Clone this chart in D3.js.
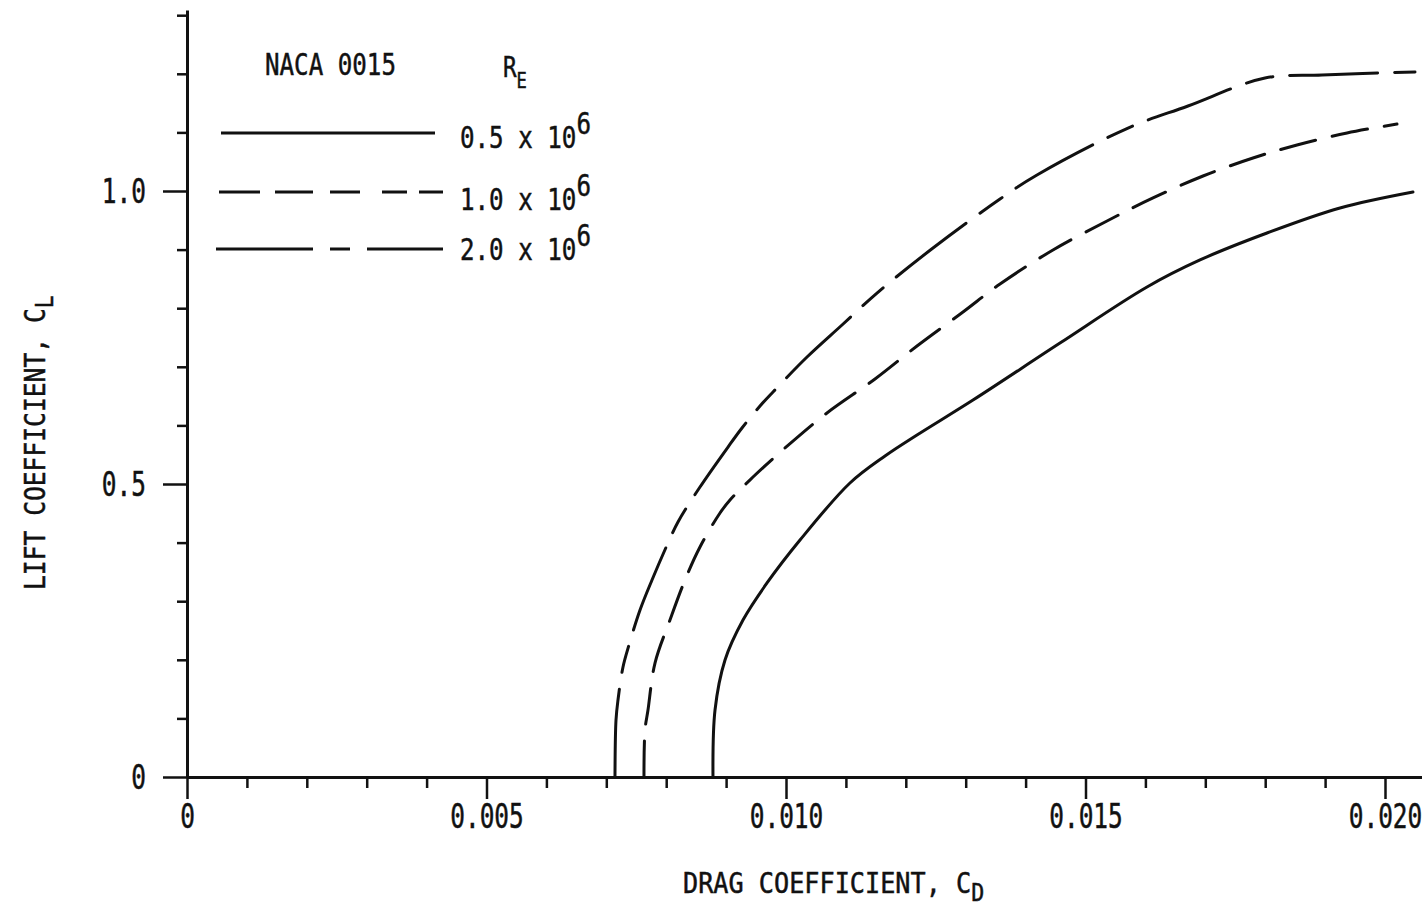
<!DOCTYPE html>
<html>
<head>
<meta charset="utf-8">
<script src="https://cdn.jsdelivr.net/npm/d3@7"></script>
<style>
  body { margin: 0; background: #fff; }
  svg { display: block; }
  text { font-family: "DejaVu Sans Mono", "Liberation Mono", monospace; fill: #111; stroke: #111; stroke-width: 0.5; }
</style>
</head>
<body>
<svg id="chart" width="1422" height="908"></svg>
<script>
// NACA 0015 drag polar
const re05Cd = [0.008781, 0.008815, 0.008982, 0.009282, 0.009683, 0.010234, 0.011068, 0.011653, 0.012187, 0.013122, 0.014574, 0.016027, 0.016912, 0.018030, 0.019249, 0.020467];
const re05Cl = [0, 0.1143, 0.1997, 0.2679, 0.3311, 0.4044, 0.5017, 0.5478, 0.5836, 0.6433, 0.7406, 0.8362, 0.8823, 0.9283, 0.9710, 0.9983];

const re10Cd = [0.007629, 0.007646, 0.007696, 0.007813, 0.008063, 0.008314, 0.008564, 0.008898, 0.009065, 0.009449, 0.009983, 0.010684, 0.011486, 0.012187, 0.012955, 0.013573, 0.014457, 0.015359, 0.016127, 0.016962, 0.017796, 0.018531, 0.019366, 0.020200];
const re10Cl = [0, 0.0802, 0.1143, 0.1945, 0.2679, 0.3362, 0.3925, 0.4505, 0.4727, 0.5119, 0.5614, 0.6212, 0.6792, 0.7355, 0.7935, 0.8413, 0.8993, 0.9488, 0.9881, 1.0256, 1.0563, 1.0785, 1.0990, 1.1143];

const re20Cd = [0.007145, 0.007162, 0.007195, 0.007279, 0.007379, 0.007563, 0.007763, 0.008030, 0.008197, 0.008564, 0.009032, 0.009265, 0.009566, 0.009783, 0.010351, 0.010935, 0.011519, 0.012454, 0.013573, 0.014190, 0.015710, 0.016711, 0.017997, 0.018948, 0.020501];
const re20Cl = [0, 0.0973, 0.1314, 0.1877, 0.2253, 0.2850, 0.3362, 0.3993, 0.4352, 0.4949, 0.5631, 0.5956, 0.6331, 0.6570, 0.7167, 0.7713, 0.8259, 0.9027, 0.9863, 1.0273, 1.1075, 1.1451, 1.1928, 1.1980, 1.2031];

const seriesLabels = ['0.5 x 10', '1.0 x 10', '2.0 x 10'];
const xMinorTicks = [0.001, 0.002, 0.003, 0.004, 0.006, 0.007, 0.008, 0.009, 0.011, 0.012, 0.013, 0.014, 0.016, 0.017, 0.018, 0.019];
const xMajorTicks = [0, 0.005, 0.010, 0.015, 0.020];
const xMajorLabels = ['0', '0.005', '0.010', '0.015', '0.020'];
const yMinorTicks = [0.1, 0.2, 0.3, 0.4, 0.6, 0.7, 0.8, 0.9, 1.1, 1.2, 1.3];
const yMajorTicks = [0, 0.5, 1.0];
const yMajorLabels = ['0', '0.5', '1.0'];

const svg = d3.select('#chart');
const x0 = 187, y0 = 777;

const xScale = d3.scaleLinear().domain([0, 0.020]).range([x0, 1385]);
const yScale = d3.scaleLinear().domain([0, 1.0]).range([y0, 191]);
const xMax = xScale.invert(1422);
const yMax = yScale.invert(10);
const xAxisScale = xScale.copy().domain([0, xMax]).range([x0, 1422]);
const yAxisScale = yScale.copy().domain([0, yMax]).range([y0, 10]);

// dash styles per series: solid, dashed, long-short
const dashes = [null, '36,17', '88,17,27,17'];
// the hand-drawn legend keys have uneven dashes
const legendDashes = [null, '41,15,38,17,30,22,25,12,24', '97,17,20,17,76'];

const series = [
  { cd: re05Cd, cl: re05Cl },
  { cd: re10Cd, cl: re10Cl },
  { cd: re20Cd, cl: re20Cl },
];

// axes
const xAxisG = svg.append('g').attr('transform', `translate(0,${y0})`);
xAxisG.append('g')
  .call(d3.axisBottom(xAxisScale).tickValues(xMinorTicks).tickSize(11).tickFormat(''))
  .call(g => g.select('.domain').remove());
xAxisG.append('g')
  .call(d3.axisBottom(xAxisScale)
    .tickValues(xMajorTicks).tickSize(22).tickSizeOuter(0).tickPadding(3)
    .tickFormat((d, i) => xMajorLabels[i]))
  .call(g => g.select('.domain').attr('stroke-width', 3))
  .call(g => g.selectAll('text')
    .attr('font-size', 34)
    .attr('dy', '0.76em')
    .attr('transform', 'scale(0.72,1)'));
xAxisG.selectAll('.tick line').attr('stroke', '#111').attr('stroke-width', 2.5);

const yAxisG = svg.append('g').attr('transform', `translate(${x0},0)`);
yAxisG.append('g')
  .call(d3.axisLeft(yAxisScale).tickValues(yMinorTicks).tickSize(10).tickFormat(''))
  .call(g => g.select('.domain').remove());
yAxisG.append('g')
  .call(d3.axisLeft(yAxisScale)
    .tickValues(yMajorTicks).tickSize(24).tickSizeOuter(0).tickPadding(16)
    .tickFormat((d, i) => yMajorLabels[i]))
  .call(g => g.select('.domain').attr('stroke-width', 3))
  .call(g => g.selectAll('text')
    .attr('font-size', 34)
    .attr('x', 0)
    .attr('dy', '0.35em')
    .attr('transform', 'translate(-41,0) scale(0.72,1)'));
yAxisG.selectAll('.tick line').attr('stroke', '#111').attr('stroke-width', 2.5);
svg.selectAll('.domain').attr('stroke', '#111');

// curves
const line = d3.line()
  .x(d => xScale(d[0]))
  .y(d => yScale(d[1]))
  .curve(d3.curveCatmullRom.alpha(0.5));

svg.append('g')
  .selectAll('path')
  .data(series)
  .join('path')
  .attr('d', s => line(s.cd.map((c, i) => [c, s.cl[i]])))
  .attr('fill', 'none')
  .attr('stroke', '#111')
  .attr('stroke-width', 3)
  .attr('stroke-linecap', 'round')
  .attr('stroke-dasharray', (s, i) => dashes[i]);

// axis titles
const xTitle = svg.append('text')
  .attr('transform', 'translate(683,893) scale(0.9,1)')
  .attr('font-size', 28);
xTitle.append('tspan').text('DRAG COEFFICIENT, C');
xTitle.append('tspan').attr('dy', 8).attr('font-size', 24).text('D');

const yTitle = svg.append('text')
  .attr('transform', 'translate(45,590) rotate(-90) scale(0.88,1)')
  .attr('font-size', 28);
yTitle.append('tspan').text('LIFT COEFFICIENT, C');
yTitle.append('tspan').attr('dy', 8).attr('font-size', 24).text('L');

// legend
const legend = svg.append('g');
legend.append('text')
  .attr('transform', 'translate(265,75) scale(0.78,1)')
  .attr('font-size', 31)
  .text('NACA 0015');
const re = legend.append('text')
  .attr('transform', 'translate(503,77) scale(0.78,1)')
  .attr('font-size', 29);
re.append('tspan').text('R');
re.append('tspan').attr('dy', 11).attr('font-size', 22).text('E');

const legendRows = [
  { y: 133, x1: 221, x2: 435, ty: 148 },
  { y: 192, x1: 219, x2: 443, ty: 210 },
  { y: 249, x1: 216, x2: 443, ty: 260 },
];
legendRows.forEach((r, i) => {
  legend.append('line')
    .attr('x1', r.x1).attr('x2', r.x2)
    .attr('y1', r.y).attr('y2', r.y)
    .attr('stroke', '#111')
    .attr('stroke-width', 3)
    .attr('stroke-dasharray', legendDashes[i]);
  const t = legend.append('text')
    .attr('transform', `translate(460,${r.ty}) scale(0.78,1)`)
    .attr('font-size', 31);
  t.append('tspan').text(seriesLabels[i]);
  t.append('tspan').attr('dy', -14).text('6');
});
</script>
</body>
</html>
